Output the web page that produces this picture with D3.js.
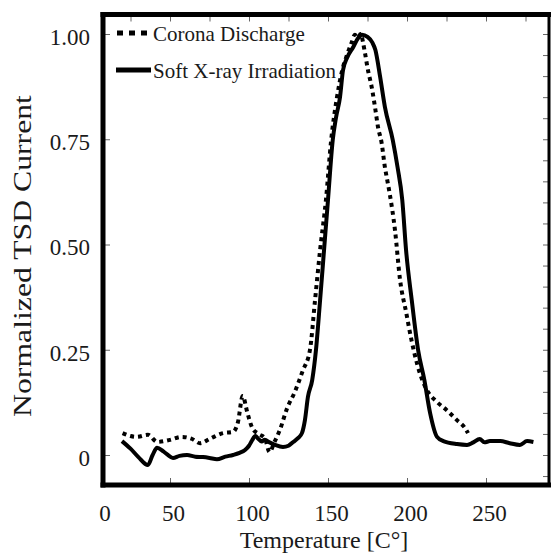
<!DOCTYPE html>
<html><head><meta charset="utf-8">
<script src="https://cdn.jsdelivr.net/npm/d3@7/dist/d3.min.js"></script>
<style>html,body{margin:0;padding:0;background:#fff;} svg{display:block;}</style>
</head><body>
<svg id="chart" width="551" height="556"></svg>
<script>
// ---- data ----
const coronaTemp = [20,25,29,36,42,50,57.6,64,69,75,83.5,90,93,96,99,102,106,110,113,116,119.6,124,129,134,138.6,141.8,145,148.7,152,155.7,159,162,165,167,169,170.5,173.4,175,178,180,181.6,184,186,187.5,189,192.4,195.6,199.4,203,206.5,210,212.6,219,225,231.6,236.7,238.6];
const coronaVal  = [0.052,0.045,0.043,0.048,0.031,0.036,0.043,0.038,0.028,0.038,0.052,0.055,0.078,0.14,0.1,0.065,0.05,0.04,0.007,0.03,0.06,0.11,0.15,0.2,0.25,0.368,0.487,0.606,0.748,0.85,0.914,0.95,0.98,0.998,0.99,1.0,0.955,0.92,0.867,0.82,0.78,0.74,0.684,0.653,0.622,0.534,0.416,0.34,0.27,0.215,0.175,0.154,0.126,0.107,0.083,0.064,0.052];
const xrayTemp = [19.6,25,30,36,39,41.8,46,51.9,56,60.8,66,70.9,75,79.7,85,89.9,94,97.5,100,102,104,106,108,110,113,116.5,121.5,125,128,131,133.5,135.4,137.3,140,142.4,145,147.5,150,153,155,157.6,159.5,162,166,169,171.5,175,178,180,183,186,191,194,197,199.4,203,207,211,214.6,219,223,231.6,238,242,246,249,252.5,259,265,271.5,276,280];
const xrayVal  = [0.033,0.015,-0.005,-0.024,0.0,0.017,0.008,-0.007,-0.002,0.0,-0.004,-0.005,-0.007,-0.01,-0.004,0.0,0.005,0.012,0.022,0.035,0.045,0.038,0.032,0.036,0.03,0.024,0.019,0.022,0.031,0.04,0.052,0.083,0.138,0.178,0.25,0.368,0.487,0.606,0.748,0.8,0.85,0.914,0.943,0.969,0.99,0.998,0.993,0.98,0.962,0.898,0.827,0.748,0.684,0.606,0.487,0.368,0.25,0.178,0.1,0.043,0.033,0.026,0.024,0.03,0.038,0.03,0.033,0.033,0.028,0.024,0.033,0.031];
const xTickLabels = [0,50,100,150,200,250];
const yTickLabels = [0,0.25,0.5,0.75,1.0];
const seriesNames = ["Corona Discharge","Soft X-ray Irradiation"];

// ---- layout ----
const svg = d3.select("#chart");
const L = 103, R = 549, T = 14.5, B = 485;
const x = d3.scaleLinear().domain([0,250]).range([91,486]);
const y = d3.scaleLinear().domain([0,1]).range([455,34]);
const serif = "'Liberation Serif','Times New Roman',serif";
const ink = "#1a1a1a";

svg.append("defs").append("clipPath").attr("id","clip")
  .append("rect").attr("x",L).attr("y",T).attr("width",R-L).attr("height",B-T);

// minor ticks
const tickStyle = g => { g.select(".domain").remove(); g.selectAll("line").attr("stroke","#666").attr("stroke-width",1); g.selectAll("text").remove(); };
svg.append("g").attr("transform",`translate(0,${B})`)
  .call(d3.axisBottom(x).tickValues([50,100,150,200,250]).tickSizeInner(-7).tickSizeOuter(0)).call(tickStyle);
svg.append("g").attr("transform",`translate(0,${T})`)
  .call(d3.axisTop(x).tickValues(d3.range(25,280,25)).tickSizeInner(-7).tickSizeOuter(0)).call(tickStyle);
svg.append("g").attr("transform",`translate(${L},0)`)
  .call(d3.axisLeft(y).tickValues(yTickLabels).tickSizeInner(-7).tickSizeOuter(0)).call(tickStyle);
svg.append("g").attr("transform",`translate(${R},0)`)
  .call(d3.axisRight(y).tickValues(d3.range(-0.05,1.051,0.05)).tickSizeInner(-6).tickSizeOuter(0)).call(tickStyle);

// tick labels
const xl = svg.append("g").attr("transform",`translate(0,${B})`)
  .call(d3.axisBottom(x).tickValues(xTickLabels).tickSize(0).tickPadding(20).tickFormat(d3.format("d")));
xl.select(".domain").remove();
xl.selectAll("text").attr("font-family",serif).attr("font-size",23).attr("fill",ink).attr("dx",3);
xl.selectAll(".tick").filter(d=>d===0).attr("transform","translate(105,0)").select("text").attr("dx",0);

const yl = svg.append("g").attr("transform",`translate(${L},0)`)
  .call(d3.axisLeft(y).tickValues(yTickLabels).tickSize(0).tickPadding(13).tickFormat(d=> d===0 ? "0" : d3.format(".2f")(d)));
yl.select(".domain").remove();
yl.selectAll("text").attr("font-family",serif).attr("font-size",23).attr("fill",ink).attr("dy","0.45em");

// lines
const line = d3.line().x(d=>x(d[0])).y(d=>y(d[1])).curve(d3.curveMonotoneX);
const plot = svg.append("g").attr("clip-path","url(#clip)");
plot.append("path").datum(xrayTemp.map((t,i)=>[t,xrayVal[i]]))
  .attr("d",line).attr("fill","none").attr("stroke","#000").attr("stroke-width",4).attr("stroke-linejoin","round");
plot.append("path").datum(coronaTemp.map((t,i)=>[t,coronaVal[i]]))
  .attr("d",line).attr("fill","none").attr("stroke","#000").attr("stroke-width",4).attr("stroke-dasharray","4,4");

// frame
const fr = svg.append("g").attr("stroke","#000");
fr.append("line").attr("x1",L).attr("x2",L).attr("y1",T-2.5).attr("y2",B+2.5).attr("stroke-width",5);
fr.append("line").attr("x1",L-2.5).attr("x2",R+2).attr("y1",T).attr("y2",T).attr("stroke-width",5);
fr.append("line").attr("x1",L-2.5).attr("x2",R+2).attr("y1",B).attr("y2",B).attr("stroke-width",5);
fr.append("line").attr("x1",R).attr("x2",R).attr("y1",T).attr("y2",B).attr("stroke-width",3);

// legend
const leg = svg.append("g");
leg.append("line").attr("x1",117).attr("x2",148).attr("y1",33).attr("y2",33)
  .attr("stroke","#000").attr("stroke-width",5).attr("stroke-dasharray","6,6");
leg.append("line").attr("x1",116).attr("x2",151).attr("y1",70).attr("y2",70)
  .attr("stroke","#000").attr("stroke-width",5);
leg.selectAll("text").data(seriesNames).join("text")
  .attr("x",153).attr("y",(d,i)=> i===0 ? 41 : 78)
  .attr("font-family",serif).attr("font-size",21).attr("fill",ink).text(d=>d);

// axis titles
svg.append("text").attr("x",324).attr("y",548).attr("text-anchor","middle")
  .attr("font-family",serif).attr("font-size",24).attr("fill",ink).text("Temperature [C°]");
svg.append("text").attr("transform","translate(31,256) rotate(-90) scale(1.22,1)").attr("text-anchor","middle")
  .attr("font-family",serif).attr("font-size",26).attr("fill",ink).text("Normalized TSD Current");
</script>
</body></html>
